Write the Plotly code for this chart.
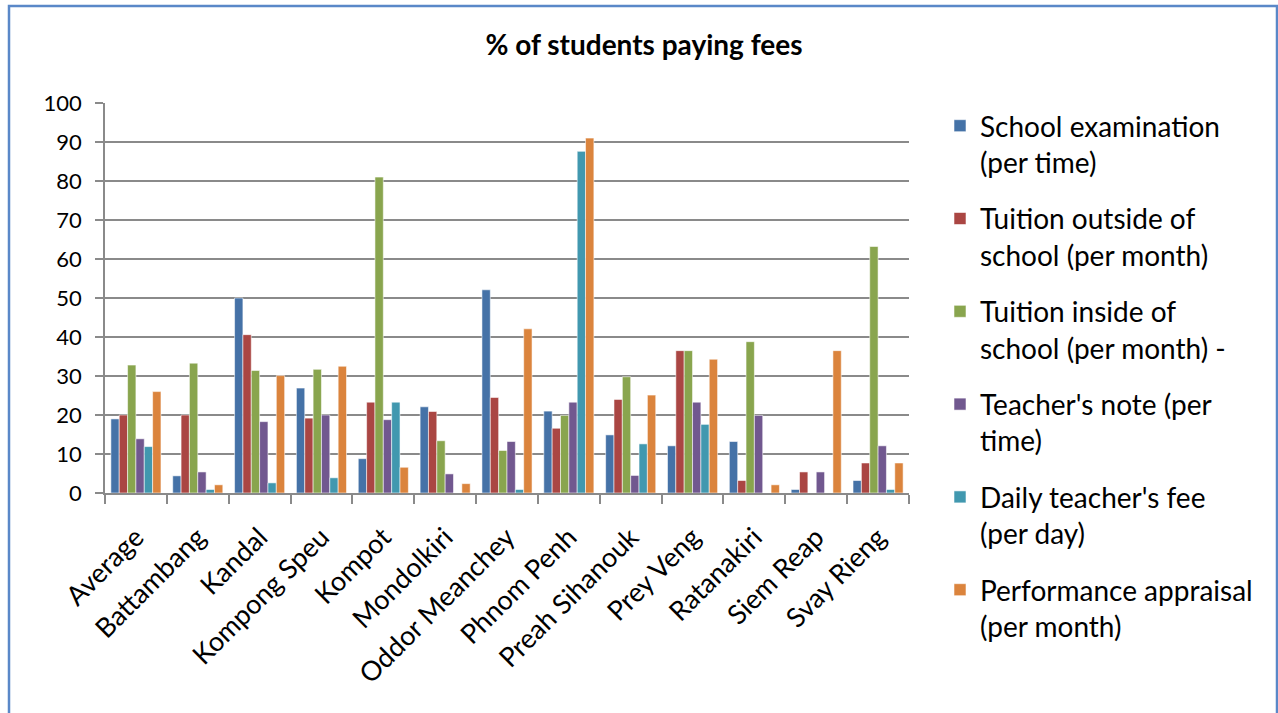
import plotly.graph_objects as go

provinces = ["Average", "Battambang", "Kandal", "Kompong Speu", "Kompot", "Mondolkiri",
             "Oddor Meanchey", "Phnom Penh", "Preah Sihanouk", "Prey Veng", "Ratanakiri",
             "Siem Reap", "Svay Rieng"]

school_exam = [19.0, 4.4, 50.0, 26.9, 8.8, 22.1, 52.1, 21.0, 14.9, 12.1, 13.2, 0.9, 3.2]
tuition_outside = [20.0, 20.0, 40.6, 19.2, 23.3, 20.9, 24.5, 16.6, 24.0, 36.5, 3.2, 5.4, 7.7]
tuition_inside = [32.8, 33.3, 31.4, 31.7, 81.0, 13.4, 10.9, 19.9, 29.8, 36.5, 38.8, 0.0, 63.2]
teacher_note = [13.9, 5.4, 18.3, 20.0, 18.8, 4.9, 13.2, 23.3, 4.5, 23.3, 19.9, 5.4, 12.1]
daily_fee = [11.9, 0.9, 2.6, 3.9, 23.3, 0.0, 0.9, 87.6, 12.6, 17.6, 0.0, 0.0, 0.9]
performance = [26.0, 2.1, 30.1, 32.5, 6.6, 2.4, 42.1, 91.0, 25.1, 34.3, 2.1, 36.5, 7.7]

series_names = [
    "School examination<br>(per time)",
    "Tuition outside of<br>school (per month)",
    "Tuition inside of<br>school (per month) -",
    "Teacher's note (per<br>time)",
    "Daily teacher's fee<br>(per day)",
    "Performance appraisal<br>(per month)",
]
series_values = [school_exam, tuition_outside, tuition_inside, teacher_note, daily_fee, performance]
colors = ["#4572A7", "#AA4643", "#89A54E", "#71588F", "#4198AF", "#DB843D"]

FONT = "Lato, 'Open Sans', sans-serif"
GRID = "#8A8A8A"

fig = go.Figure()
for i, (name, vals, col) in enumerate(zip(series_names, series_values, colors)):
    fig.add_trace(go.Bar(
        x=provinces, y=vals, name=name, legendgroup=f"g{i}",
        marker=dict(color=col, line=dict(color="rgba(255,255,255,0.55)", width=1)),
    ))

# Plot-area geometry in pixels, used to place the outer frame in paper units
L, R, T, B = 105, 909, 103, 493
W, H = R - L, B - T

def px_x(p):
    return (p - L) / W

def px_y(p):
    return (B - p) / H

fig.update_layout(
    width=1278, height=713,
    margin=dict(l=L, r=1278 - R, t=T, b=713 - B, autoexpand=False),
    paper_bgcolor="white", plot_bgcolor="white",
    font=dict(family=FONT, color="black"),
    barmode="group", bargap=0.19, bargroupgap=0,
    title=dict(text="<b>% of students paying fees</b>", x=644 / 1278, xanchor="center",
               y=1 - 45 / 713, yanchor="middle", yref="container",
               font=dict(family=FONT, size=28, color="black")),
    legend=dict(x=px_x(940), xanchor="left", y=px_y(101), yanchor="top",
                font=dict(family=FONT, size=28, color="black"), maxheight=650,
                valign="top", tracegroupgap=17, bgcolor="rgba(0,0,0,0)"),
    xaxis=dict(showgrid=False, showline=True, linecolor=GRID, linewidth=1.5,
               ticks="outside", tickson="boundaries", ticklen=9, tickcolor=GRID, tickwidth=1.5,
               tickangle=-45, tickfont=dict(family=FONT, size=27, color="black"),
               ticklabelstandoff=16),
    yaxis=dict(range=[0, 100], dtick=10, showgrid=True, gridcolor=GRID, gridwidth=1.5,
               showline=True, linecolor=GRID, linewidth=1.5, zeroline=False,
               ticks="outside", ticklen=8, tickcolor=GRID, tickwidth=1.5,
               tickfont=dict(family=FONT, size=22, color="black"), ticklabelstandoff=9),
    shapes=[dict(type="rect", xref="paper", yref="paper",
                 x0=px_x(9), x1=px_x(1277), y0=px_y(740), y1=px_y(6),
                 line=dict(color="#5A88C8", width=2.5), fillcolor="rgba(0,0,0,0)", layer="below")],
)

fig.write_html("out.html")
